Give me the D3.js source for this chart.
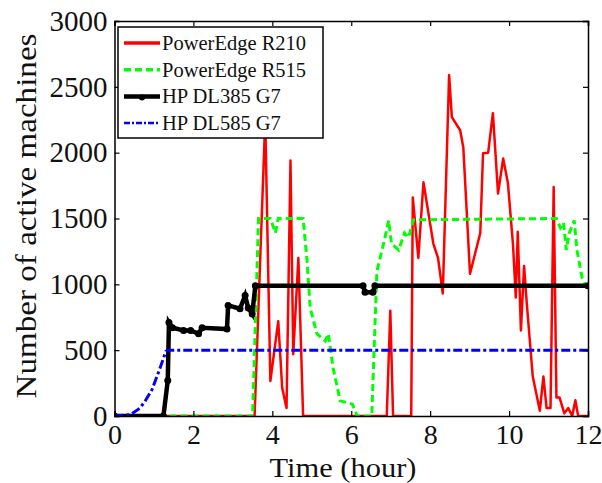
<!DOCTYPE html>
<html><head><meta charset="utf-8">
<script src="https://cdn.jsdelivr.net/npm/d3@7"></script>
<style>body{margin:0;background:#fff}svg{display:block}text{font-family:"Liberation Serif","Times New Roman",Times,serif;fill:#111}</style>
</head><body><svg id="c" width="602" height="483"></svg>
<script>
// ---- data ----
const xTicks = [0, 2, 4, 6, 8, 10, 12];
const yTicks = [0, 500, 1000, 1500, 2000, 2500, 3000];
const seriesNames = ["PowerEdge R210", "PowerEdge R515", "HP DL385 G7", "HP DL585 G7"];
const r210 = [[0,0],[3.55,0],[3.82,2250],[3.95,266],[4.15,720],[4.25,213],[4.36,60],[4.46,1940],[4.53,470],[4.66,1200],[4.72,600],[4.78,0],
  [6.9,0],[6.99,800],[7.06,0],[7.52,0],[7.56,1660],[7.7,1200],[7.83,1775],[8.08,1310],[8.2,1200],[8.32,930],[8.48,2590],[8.55,2270],[8.76,2170],[8.84,2040],
  [9.01,1080],[9.27,1390],[9.34,1995],[9.47,2000],[9.59,2300],[9.72,1690],[9.85,1955],[9.97,1770],[10.1,1300],[10.17,900],[10.22,1400],[10.3,650],[10.38,1140],
  [10.45,850],[10.6,300],[10.78,40],[10.87,300],[10.95,60],[11.05,60],[11.13,1740],[11.2,140],[11.28,140],[11.4,20],[11.5,60],[11.6,0],[11.68,120],[11.75,0],[12,0]];
const r515 = [[0,0],[3.5,0],[3.65,1500],[3.95,1500],[4.08,1390],[4.15,1500],[4.78,1500],[4.88,1180],[4.96,820],[5.13,625],[5.34,570],[5.42,625],[5.54,365],
  [5.72,115],[6.03,90],[6.15,0],[6.52,0],[6.65,1100],[6.82,1310],[6.95,1485],[7.02,1310],[7.2,1260],[7.35,1390],[7.45,1355],[7.58,1490],[11.2,1500],
  [11.3,1430],[11.38,1470],[11.45,1260],[11.52,1385],[11.65,1485],[11.72,1260],[11.85,1050],[12,950]];
const dl385 = [[0,0],[1.24,0],[1.35,270],[1.38,710],[1.47,670],[1.75,650],[1.93,650],[2.13,625],[2.22,670],[2.85,660],[2.88,840],[3.18,815],[3.31,915],
  [3.39,820],[3.49,775],[3.57,990],[6.3,990],[6.35,940],[6.55,940],[6.6,990],[12,990]];
const dl585 = [[0,0],[0.4,10],[0.6,50],[0.75,100],[0.95,200],[1.15,360],[1.3,490],[1.35,500],[12,500]];

// ---- layout ----
const svg = d3.select("#c");
const L = 114.5, R = 588, T = 21, B = 416;
const x = d3.scaleLinear().domain([0, 12]).range([L, R]);
const y = d3.scaleLinear().domain([0, 3000]).range([B, T]);
const line = d3.line().x(d => x(d[0])).y(d => y(d[1]));

svg.append("clipPath").attr("id","clip").append("rect").attr("x",L).attr("y",T).attr("width",R-L).attr("height",B-T);
const g = svg.append("g").attr("clip-path","url(#clip)");

g.append("path").datum(r210).attr("d", line).attr("fill","none").attr("stroke","#ff0000").attr("stroke-width",2.5).attr("stroke-linejoin","round");
g.append("path").datum(r515).attr("d", line).attr("fill","none").attr("stroke","#00ff00").attr("stroke-width",3).attr("stroke-dasharray","7,4");
g.append("path").datum(dl385).attr("d", line).attr("fill","none").attr("stroke","#000").attr("stroke-width",4.5);
g.selectAll("circle.m").data(dl385).join("circle").attr("class","m").attr("cx",d=>x(d[0])).attr("cy",d=>y(d[1])).attr("r",3.5).attr("fill","#000");
g.append("path").datum(dl585).attr("d", line).attr("fill","none").attr("stroke","#0000ff").attr("stroke-width",3).attr("stroke-dasharray","9,3,3,3");

// ---- axes ----
const ax = svg.append("g");
const xAx = ax.append("g").attr("transform",`translate(0,${B})`).call(d3.axisBottom(x).tickValues(xTicks).tickSize(-5).tickPadding(8).tickFormat(d3.format("d")));
ax.append("g").attr("transform",`translate(0,${T})`).call(d3.axisTop(x).tickValues(xTicks).tickSize(-5).tickFormat(""));
const yAx = ax.append("g").attr("transform",`translate(${L},0)`).call(d3.axisLeft(y).tickValues(yTicks).tickSize(-5).tickPadding(7).tickFormat(d3.format("d")));
ax.append("g").attr("transform",`translate(${R},0)`).call(d3.axisRight(y).tickValues(yTicks).tickSize(-5).tickFormat(""));
ax.selectAll(".domain").attr("stroke","#000").attr("stroke-width",1.5);
ax.selectAll(".tick line").attr("stroke","#000").attr("stroke-width",1.2);
ax.selectAll(".tick text").attr("fill","#111").style("font-family","'Liberation Serif','Times New Roman',serif");
xAx.selectAll(".tick text").attr("font-size",28);
yAx.selectAll(".tick text").attr("font-size",29);

svg.append("text").attr("x",343).attr("y",477).attr("text-anchor","middle").attr("font-size",28)
  .attr("textLength",147).attr("lengthAdjust","spacingAndGlyphs").text("Time (hour)");
svg.append("text").attr("transform","translate(36,216) rotate(-90)").attr("text-anchor","middle").attr("font-size",30)
  .attr("textLength",365).attr("lengthAdjust","spacingAndGlyphs").text("Number of active machines");

// ---- legend ----
const lg = svg.append("g");
lg.append("rect").attr("x",118).attr("y",27).attr("width",205).attr("height",111).attr("fill","#fff").attr("stroke","#000").attr("stroke-width",1.5);
const styles = [
  {c:"#ff0000",w:3.5,d:null},
  {c:"#00ff00",w:3.5,d:"7,4"},
  {c:"#000",w:4.5,d:null,m:true},
  {c:"#0000ff",w:2.5,d:"6,2,2,2"}];
seriesNames.forEach((n,i)=>{
  const yy = 43 + i*26.7;
  const s = styles[i];
  lg.append("line").attr("x1",124).attr("x2",160).attr("y1",yy).attr("y2",yy).attr("stroke",s.c).attr("stroke-width",s.w).attr("stroke-dasharray",s.d);
  if (s.m) lg.append("circle").attr("cx",142).attr("cy",yy+1).attr("r",3).attr("fill","#000");
  lg.append("text").attr("x",162).attr("y",yy+7).attr("font-size",20.5).text(n);
});
</script></body></html>
